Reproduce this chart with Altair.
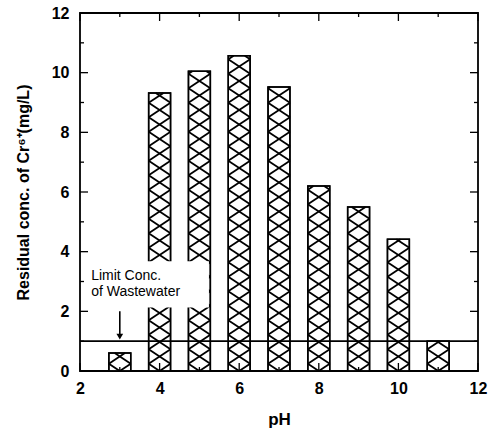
import altair as alt
import pandas as pd

# ---- data ----
ph = [3, 4, 5, 6, 7, 8, 9, 10, 11]
conc = [0.6, 9.32, 10.05, 10.57, 9.52, 6.2, 5.5, 4.42, 1.0]
limit_conc = 1.0
x_ticks = list(range(2, 13))
y_ticks = list(range(0, 13))
x_labels = [2, 4, 6, 8, 10, 12]
y_labels = [0, 2, 4, 6, 8, 10, 12]
note_lines = ["Limit Conc.", "of  Wastewater"]
x_title = "pH"
y_title = "Residual conc. of Cr⁶⁺(mg/L)"

# ---- layout / style ----
W, H = 398, 358
XD, YD = [2, 12], [0, 12]
sx = W / (XD[1] - XD[0])
sy = H / (YD[1] - YD[0])
BAR_HALF = 0.275          # half bar width (data units)
PERIOD = 14.5 / sy        # hatch vertical period (data units)
FONT = "Liberation Sans"

xs = alt.Scale(domain=XD, nice=False, zero=False)
ys = alt.Scale(domain=YD, nice=False, zero=False)
x_axis = alt.Axis(values=x_labels, title=x_title, ticks=False, domain=False, grid=False,
                  labelFlush=False, labelPadding=9, titlePadding=15)
y_axis = alt.Axis(values=y_labels, title=y_title, ticks=False, domain=False, grid=False,
                  labelFlush=False, labelPadding=11, titlePadding=20)

bars_df = pd.DataFrame({"ph": ph, "conc": conc})
bars_df["x1"] = bars_df["ph"] - BAR_HALF
bars_df["x2"] = bars_df["ph"] + BAR_HALF

# crosshatch segments derived from bar values
segs = []
for c, v in zip(ph, conc):
    k = 0
    while k * PERIOD - PERIOD / 2 < v:
        yk = k * PERIOD
        for ya, yb in [(yk - PERIOD / 2, yk + PERIOD / 2), (yk + PERIOD / 2, yk - PERIOD / 2)]:
            xa, xb = c - BAR_HALF, c + BAR_HALF
            dy = yb - ya
            lo, hi = (0 - ya) / dy, (v - ya) / dy
            t0, t1 = max(0.0, min(lo, hi)), min(1.0, max(lo, hi))
            if t1 > t0:
                segs.append({"x1": xa + t0 * (xb - xa), "conc": ya + t0 * dy,
                             "x2": xa + t1 * (xb - xa), "c2": ya + t1 * dy})
        k += 1
hatch_df = pd.DataFrame(segs)

X = lambda f: alt.X(f, scale=xs, axis=x_axis)
Y = lambda f: alt.Y(f, scale=ys, axis=y_axis)

bars = alt.Chart(bars_df).mark_bar(fill="white", stroke="black", strokeWidth=1.5).encode(
    x=X("x1:Q"), x2="x2:Q", y=Y("conc:Q"), y2=alt.datum(0),
)

hatch = alt.Chart(hatch_df).mark_rule(color="black", strokeWidth=1.8).encode(
    x=X("x1:Q"), y=Y("conc:Q"), x2="x2:Q", y2="c2:Q",
)

bar_edges = alt.Chart(bars_df).mark_bar(fill=None, stroke="black", strokeWidth=1.5).encode(
    x=X("x1:Q"), x2="x2:Q", y=Y("conc:Q"), y2=alt.datum(0),
)

one = pd.DataFrame({"a": [0]})
box = alt.Chart(one).mark_rect(fill="white").encode(
    x=alt.datum(2.08), x2=alt.datum(5.24),
    y=alt.datum(2.13), y2=alt.datum(3.68),
)

note = alt.Chart(one).mark_text(
    align="left", baseline="alphabetic", font=FONT, fontSize=14, color="black",
    lineBreak="\n", lineHeight=16,
).encode(
    x=alt.datum(2.28), y=alt.datum(3.05),
    text=alt.value("\n".join(note_lines)),
)

limit_df = pd.DataFrame({"conc": [limit_conc], "x1": [XD[0]], "x2": [XD[1]]})
limit_line = alt.Chart(limit_df).mark_rule(color="black", strokeWidth=1.6).encode(
    y=Y("conc:Q"), x=X("x1:Q"), x2="x2:Q",
)

arrow_df = pd.DataFrame({"x1": [ph[0]], "y": [limit_conc]})
arrow_shaft = alt.Chart(arrow_df).transform_calculate(
    conc="datum.y + 1.0", c2="datum.y + 0.2"
).mark_rule(color="black", strokeWidth=1.6).encode(
    x=X("x1:Q"), y=Y("conc:Q"), y2="c2:Q",
)

arrow_head = alt.Chart(arrow_df).transform_calculate(
    conc=f"datum.y + {4.5 / sy}"
).mark_point(shape="triangle-down", filled=True, color="black", size=45, opacity=1).encode(
    x=X("x1:Q"), y=Y("conc:Q"),
)

# inside ticks on all four sides
tick_layers = []
xt = pd.DataFrame({"x1": x_ticks})
yt = pd.DataFrame({"conc": y_ticks})
for major, L in [(True, 8), (False, 4)]:
    cx = "datum.x1 % 2 == 0" if major else "datum.x1 % 2 != 0"
    cy = "datum.conc % 2 == 0" if major else "datum.conc % 2 != 0"
    tick_layers.append(alt.Chart(xt).transform_filter(cx).mark_rule(color="black", strokeWidth=1.3).encode(
        x=X("x1:Q"), y=alt.value(H), y2=alt.value(H - L)))
    tick_layers.append(alt.Chart(xt).transform_filter(cx).mark_rule(color="black", strokeWidth=1.3).encode(
        x=X("x1:Q"), y=alt.value(0), y2=alt.value(L)))
    tick_layers.append(alt.Chart(yt).transform_filter(cy).mark_rule(color="black", strokeWidth=1.3).encode(
        y=Y("conc:Q"), x=alt.value(0), x2=alt.value(L)))
    tick_layers.append(alt.Chart(yt).transform_filter(cy).mark_rule(color="black", strokeWidth=1.3).encode(
        y=Y("conc:Q"), x=alt.value(W), x2=alt.value(W - L)))

chart = alt.layer(
    bars, hatch, bar_edges, box, note, limit_line, arrow_shaft, arrow_head, *tick_layers
).properties(
    width=W, height=H,
    autosize=alt.AutoSizeParams(type="none"),
    padding={"left": 80, "top": 13, "right": 16, "bottom": 60},
    background="white",
).configure_view(
    stroke="black", strokeWidth=1.8
).configure_axis(
    labelFont=FONT, labelFontWeight="bold", labelFontSize=16, labelColor="black",
    titleFont=FONT, titleFontWeight="bold", titleColor="black",
).configure_axisX(titleFontSize=17).configure_axisY(titleFontSize=16)

chart.save("out.html", embed_options={"renderer": "svg", "actions": False})
